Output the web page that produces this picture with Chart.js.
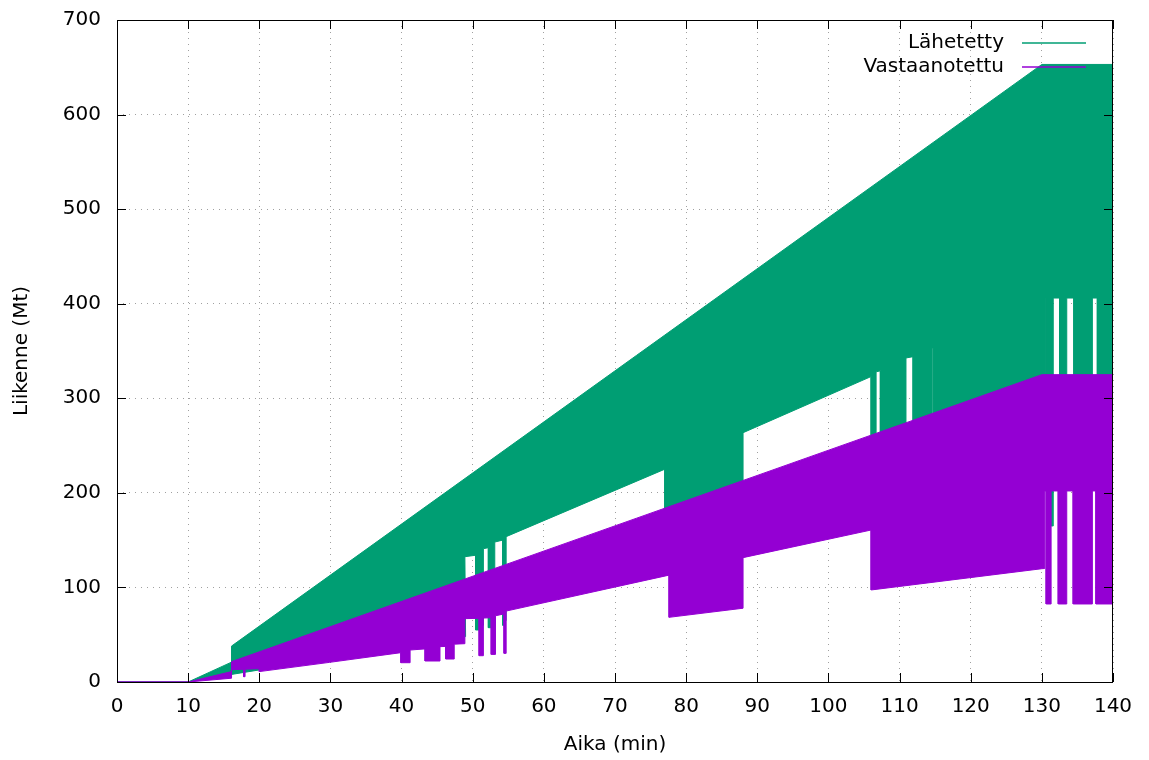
<!DOCTYPE html>
<html>
<head>
<meta charset="utf-8">
<script src="https://cdn.jsdelivr.net/npm/chart.js@4.4.1/dist/chart.umd.min.js"></script>
<style>
  body { margin: 0; background: #fff; }
  #wrap { width: 1149px; height: 760px; }
</style>
</head>
<body>
<div id="wrap"><canvas id="liikenne" width="1149" height="760"></canvas></div>
<script>
// Lähetetty: yläreuna ja alareuna (min, Mt)
const lahYlaX = [0, 10, 16.1, 16.1, 130, 140];
const lahYlaY = [0, 0, 21, 38, 653, 653];

const lahAlaX = [0, 10, 16.1, 49, 48.9, 50.4, 50.4, 50.9, 50.9, 51.5, 51.5, 52.2, 52.2, 52.6, 52.6, 53.1, 53.1, 54.2, 54.2, 54.4, 54.4, 54.7, 54.7, 77, 77, 88, 88, 106, 106, 106.7, 106.7, 107.3, 107.3, 110.9, 110.9, 111.9, 111.9, 114.6, 114.6, 114.8, 114.8, 130, 130.5, 130.5, 130.6, 130.6, 131.3, 131.3, 131.6, 131.6, 132.5, 132.5, 133.5, 133.5, 134.5, 134.5, 137.1, 137.1, 137.8, 137.8, 140];
const lahAlaY = [0, 0, 8, 48, 132.5, 134, 55, 55, 60, 60, 141, 142, 57.4, 57.4, 62, 62, 148, 150, 60, 60, 65, 65, 153.7, 225, 170, 200, 263.6, 323, 250, 252, 328, 329, 253, 262, 342.6, 344, 264, 270, 353, 353, 270, 300, 300, 406, 406, 300, 300, 165, 165, 406, 406, 300, 300, 406, 406, 300, 300, 406, 406, 300, 300];

// Vastaanotettu: yläreuna ja alareuna (min, Mt)
const vasYlaX = [0, 10, 16.1, 16.1, 130, 140];
const vasYlaY = [0, 0, 11, 21.5, 325, 325];

const vasAlaX = [0, 10, 16.1, 16.1, 17.8, 17.8, 18.0, 18.0, 20, 20, 29.9, 39.9, 39.9, 41.2, 41.2, 43.3, 43.3, 45.4, 45.4, 46.2, 46.2, 47.4, 47.4, 48.9, 48.9, 50.9, 50.9, 51.5, 51.5, 52.6, 52.6, 53.2, 53.2, 54.4, 54.4, 54.7, 54.7, 77.6, 77.6, 88, 88, 106, 106, 130, 130.4, 130.4, 130.6, 130.6, 131.3, 131.3, 132.3, 132.3, 133.5, 133.5, 134.4, 134.4, 137.1, 137.1, 137.6, 137.6, 140];
const vasAlaY = [0, 0, 4, 13, 13.5, 5.6, 5.6, 13.6, 14, 11, 20.8, 31, 20.4, 20.4, 33.8, 35, 22.2, 22.2, 37.4, 37.6, 24.3, 24.3, 40, 40.5, 67, 67.3, 27.8, 27.8, 67.6, 68, 29.2, 29.2, 70, 72, 30.3, 30.3, 75, 113, 68.4, 78, 131.5, 160.7, 97.3, 119.8, 120, 202, 202, 82.5, 82.5, 202, 202, 82.5, 82.5, 202, 202, 82.5, 82.5, 202, 202, 82.5, 82.5];

const xTicks = [0, 10, 20, 30, 40, 50, 60, 70, 80, 90, 100, 110, 120, 130, 140];
const yTicks = [0, 100, 200, 300, 400, 500, 600, 700];

const vihrea = '#009e73';
const violetti = '#9400d3';
const fontti = 'DejaVu Sans';

function pisteet(xs, ys) {
    return xs.map((x, i) => ({ x: x, y: ys[i] }));
}

// gnuplot-tyylinen kehys, sisäänpäin olevat tikit ja selite
const kehys = {
    id: 'kehys',
    afterDatasetsDraw(chart) {
        const { ctx, chartArea: a, scales } = chart;
        ctx.save();
        ctx.strokeStyle = '#000';
        ctx.lineWidth = 1;
        ctx.beginPath();
        xTicks.forEach(t => {
            const px = Math.round(scales.x.getPixelForValue(t)) + 0.5;
            ctx.moveTo(px, a.bottom); ctx.lineTo(px, a.bottom - 9);
            ctx.moveTo(px, a.top); ctx.lineTo(px, a.top + 9);
        });
        yTicks.forEach(t => {
            const py = Math.round(scales.y.getPixelForValue(t)) + 0.5;
            ctx.moveTo(a.left, py); ctx.lineTo(a.left + 9, py);
            ctx.moveTo(a.right, py); ctx.lineTo(a.right - 9, py);
        });
        ctx.stroke();
        ctx.strokeRect(Math.round(a.left) + 0.5, Math.round(a.top) + 0.5,
            Math.round(a.right - a.left) - 1, Math.round(a.bottom - a.top));

        const rivit = [['Lähetetty', vihrea, 43], ['Vastaanotettu', violetti, 67]];
        ctx.font = '20px ' + fontti;
        ctx.textAlign = 'right';
        ctx.textBaseline = 'middle';
        rivit.forEach(([teksti, vari, y]) => {
            ctx.fillStyle = '#000';
            ctx.fillText(teksti, 1004, y);
            ctx.strokeStyle = vari;
            ctx.lineWidth = 1.5;
            ctx.beginPath();
            ctx.moveTo(1022, y);
            ctx.lineTo(1086, y);
            ctx.stroke();
        });
        ctx.restore();
    }
};

const liikenne = document.getElementById('liikenne');

new Chart(liikenne, {
    type: 'line',
    data: {
        datasets: [
            {
                label: 'Lähetetty',
                data: pisteet(lahYlaX, lahYlaY),
                borderColor: vihrea,
                backgroundColor: vihrea,
                borderWidth: 1,
                pointRadius: 0,
                fill: 1,
                order: 1
            },
            {
                label: 'Lähetetty (ala)',
                data: pisteet(lahAlaX, lahAlaY),
                borderColor: vihrea,
                borderWidth: 1,
                pointRadius: 0,
                fill: false,
                order: 1
            },
            {
                label: 'Vastaanotettu',
                data: pisteet(vasYlaX, vasYlaY),
                borderColor: violetti,
                backgroundColor: violetti,
                borderWidth: 1,
                pointRadius: 0,
                fill: 3,
                order: 0
            },
            {
                label: 'Vastaanotettu (ala)',
                data: pisteet(vasAlaX, vasAlaY),
                borderColor: violetti,
                borderWidth: 1,
                pointRadius: 0,
                fill: false,
                order: 0
            }
        ]
    },
    options: {
        responsive: false,
        animation: false,
        layout: {
            padding: { top: 20, right: 36, bottom: 0, left: 0 }
        },
        scales: {
            x: {
                type: 'linear',
                min: 0,
                max: 140,
                afterFit: s => { s.height = 78; },
                afterBuildTicks: s => { s.ticks = xTicks.map(v => ({ value: v })); },
                grid: {
                    color: '#a0a0a0',
                    drawTicks: false
                },
                border: { display: false, dash: [1, 5] },
                ticks: {
                    padding: 13,
                    color: '#000',
                    font: { family: fontti, size: 20 }
                },
                title: {
                    display: true,
                    text: 'Aika (min)',
                    color: '#000',
                    padding: { top: 4, bottom: 3 },
                    font: { family: fontti, size: 20 }
                }
            },
            y: {
                min: 0,
                max: 700,
                afterFit: s => {
                    s.width = 117;
                    s.paddingTop = 0;
                    s.paddingBottom = 0;
                },
                afterBuildTicks: s => { s.ticks = yTicks.map(v => ({ value: v })); },
                grid: {
                    color: '#a0a0a0',
                    drawTicks: false
                },
                border: { display: false, dash: [1, 5] },
                ticks: {
                    padding: 16,
                    color: '#000',
                    font: { family: fontti, size: 20 }
                },
                title: {
                    display: true,
                    text: 'Liikenne (Mt)',
                    color: '#000',
                    padding: { top: 10, bottom: 4 },
                    font: { family: fontti, size: 20 }
                }
            }
        },
        plugins: {
            legend: { display: false },
            tooltip: { enabled: false }
        }
    },
    plugins: [kehys]
});
</script>
</body>
</html>
